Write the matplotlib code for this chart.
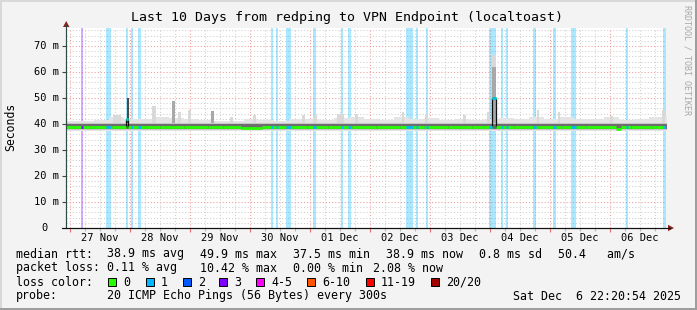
#!/usr/bin/env python3
"""
smokeping style latency graph: last 10 days, redping -> VPN endpoint
"""

import matplotlib
matplotlib.use('Agg')
import matplotlib.pyplot as plt
from matplotlib.patches import Rectangle, Polygon
from matplotlib.lines import Line2D
import numpy as np

W, H = 697, 310
MONO = 'DejaVu Sans Mono'

# time axis in days since 27 Nov 00:00
t_start, t_end = -0.069, 9.931
day_labels = ['27 Nov', '28 Nov', '29 Nov', '30 Nov', '01 Dec',
              '02 Dec', '03 Dec', '04 Dec', '05 Dec', '06 Dec']
y_ticks = [0, 10, 20, 30, 40, 50, 60, 70]

# loss buckets
loss_names = ['0', '1', '2', '3', '4-5', '6-10', '11-19', '20/20']
loss_colors = ['#26ff00', '#00b8ff', '#0059ff', '#7e00ff',
               '#ff00ff', '#ff5500', '#ff0000', '#a10000']

# periods with packet loss (start, end in days, loss bucket)
band_start = [0.183, 0.600, 0.933, 1.017, 1.133, 3.350, 3.433, 3.600, 4.050, 4.517, 4.633,
              5.600, 5.767, 5.933, 6.983, 7.183, 7.267, 7.717, 8.050, 8.350, 9.267, 9.883]
band_end = [0.217, 0.683, 0.967, 1.050, 1.183, 3.383, 3.467, 3.683, 4.100, 4.550, 4.683,
            5.717, 5.800, 5.967, 7.100, 7.217, 7.300, 7.767, 8.100, 8.433, 9.300, 9.931]
band_loss = [3, 1, 1, 1, 1, 1, 1, 1, 1, 1, 1,
             1, 1, 1, 1, 1, 1, 1, 1, 1, 1, 1]

# median rtt (ms), step changes
median_t = [-0.069, 0.35, 0.6, 0.7, 0.933, 0.967, 1.25, 1.5, 1.9, 2.3, 2.55, 2.85, 3.2, 3.6, 3.95, 4.3,
            4.7, 5.1, 5.5, 5.9, 6.3, 6.7, 7.033, 7.1, 7.4, 7.8, 8.2, 8.6, 9.1, 9.18, 9.35, 9.7]
median_v = [38.9, 38.7, 38.8, 38.9, 42.0, 38.8, 38.9, 38.7, 38.9, 38.8, 39.0, 38.6, 38.9, 38.8, 38.9, 38.7,
            38.9, 38.9, 38.8, 38.9, 38.7, 38.9, 50.0, 38.9, 38.8, 38.9, 38.7, 38.9, 38.1, 38.7, 38.9, 38.9]

# smoke: upper envelope of the outer ping spread, every 6 hours
smoke_t = np.arange(-0.1, 9.9, 0.25)
smoke_top = [41.3, 41.0, 41.5, 42.5, 42.0, 41.8, 42.5, 42.3, 42.0, 41.5,
             41.3, 41.0, 42.0, 41.5, 41.2, 41.8, 42.0, 41.5, 42.2, 42.5,
             41.8, 41.5, 42.5, 42.0, 42.3, 41.5, 42.0, 41.5, 42.0, 42.3,
             41.8, 42.8, 42.0, 42.5, 41.8, 42.0, 42.5, 41.5, 41.8, 42.5]
smoke_bottom = 37.2
smoke_mid = (37.8, 40.4)
smoke_dark = (38.2, 39.8)

# single slow samples sticking out of the smoke
spike_t = [0.72, 0.95, 1.37, 1.70, 1.79, 1.96, 2.35, 2.67, 3.05, 3.87, 4.05, 4.45,
           4.75, 5.53, 5.92, 6.55, 6.95, 7.033, 7.033, 7.78, 8.13, 9.00, 9.87]
spike_w = [0.12, 0.03, 0.06, 0.04, 0.06, 0.05, 0.05, 0.05, 0.05, 0.05, 0.06, 0.12,
           0.04, 0.04, 0.04, 0.04, 0.04, 0.067, 0.067, 0.04, 0.04, 0.04, 0.04]
spike_top = [43.5, 50.0, 47.0, 49.0, 44.5, 45.5, 45.0, 42.5, 43.5, 43.5, 43.5, 44.0,
             44.0, 44.5, 44.0, 43.5, 44.5, 66.5, 62.0, 45.5, 44.5, 43.0, 45.5]
spike_level = [0, 2, 0, 1, 0, 0, 1, 0, 0, 0, 0, 0,
               0, 0, 0, 0, 0, 0, 1, 0, 0, 0, 0]
smoke_shades = ['#d9d9d9', '#a8a8a8', '#4a4a4a']

fig = plt.figure(figsize=(W / 100, H / 100), dpi=100, facecolor='#f3f3f3')


def fx(px):
    return px / W


def fy(py):
    return 1 - py / H


ax = fig.add_axes([fx(66), fy(228), 600 / W, 200 / H])
ax.set_facecolor('white')
ax.set_xlim(t_start, t_end)
ax.set_ylim(0, 76.9)

# grid (drawn under data like rrdtool)
for t in np.arange(-0.0, 10.0, 0.25):
    major = abs(t - round(t)) < 1e-6
    ax.axvline(t, color='#f29a9a' if major else '#cfcfcf', lw=0.75,
               ls=(0, (1, 2)), zorder=0.5)
for y in np.arange(2, 77, 2):
    major = y % 10 == 0
    ax.axhline(y, color='#f29a9a' if major else '#cfcfcf', lw=0.75,
               ls=(0, (1, 2)), zorder=0.5)

# loss background bands
for s, e, c in zip(band_start, band_end, band_loss):
    ax.axvspan(s, e, color=loss_colors[c], alpha=0.33, lw=0, zorder=1)

# smoke
st = np.append(smoke_t, t_end + 0.1)
top = np.append(smoke_top, smoke_top[-1])
ax.fill_between(st, smoke_bottom, top, step='post', color='#e4e4e4', lw=0, zorder=2)
for t, w, tp, lv in zip(spike_t, spike_w, spike_top, spike_level):
    ax.bar(t, tp - smoke_mid[0], width=w, bottom=smoke_mid[0], align='edge',
           color=smoke_shades[lv], lw=0, zorder=2.1 + lv * 0.01)
ax.fill_between(st, smoke_mid[0], smoke_mid[1], step='post', color='#c6c6c6', lw=0, zorder=2.2)
ax.fill_between(st, smoke_dark[0], smoke_dark[1], step='post', color='#6e6e6e', lw=0, zorder=2.3)

# median line: black connector on big jumps, then coloured by loss
mt = np.append(median_t, t_end)
jumps = [k for k in range(1, len(median_v)) if abs(median_v[k] - median_v[k - 1]) > 2]
for k in jumps:
    ax.vlines(median_t[k], median_v[k - 1], median_v[k], color='#111111', lw=0.9, zorder=3)
ax.hlines(median_v, median_t, mt[1:], color=loss_colors[0], lw=2.0, zorder=3.1)
for s, e, c in zip(band_start, band_end, band_loss):
    i = np.searchsorted(median_t, s, side='right') - 1
    j = np.searchsorted(median_t, e, side='left')
    edges = [s] + [t for t in median_t[i + 1:j]] + [e]
    for k in range(len(edges) - 1):
        v = median_v[i + k]
        ax.hlines(v, edges[k], edges[k + 1], color=loss_colors[c], lw=2.0, zorder=3.2)

# axes
for sp in ['top', 'right']:
    ax.spines[sp].set_visible(False)
ax.spines['left'].set_color('#2c4d43')
ax.spines['bottom'].set_color('#111111')
ax.spines['left'].set_linewidth(0.8)
ax.spines['bottom'].set_linewidth(0.8)
ax.set_xticks(np.arange(0, 10, 1))
ax.set_xticks(np.arange(0, 10, 0.25), minor=True)
ax.set_xticklabels([])
ax.tick_params(axis='x', which='major', length=3, color='#e07070', width=0.8)
ax.tick_params(axis='x', which='minor', length=2, color='#bbbbbb', width=0.8)
ax.set_yticks(y_ticks)
ax.set_yticklabels([])
ax.tick_params(axis='y', length=3, color='#444444', width=0.8)

xt = ax.get_xaxis_transform()
for i, lab in enumerate(day_labels):
    ax.text(i + 0.5, -0.05, lab, transform=xt, ha='center', va='center',
            family=MONO, fontsize=7.5)
yt = ax.get_yaxis_transform()
for v in y_ticks:
    if v == 0:
        ax.text((44.5 - 66) / 600, v, '0', transform=yt, ha='center', va='center',
                family=MONO, fontsize=7.5)
    else:
        ax.text((59 - 66) / 600, v, f'{v} m', transform=yt, ha='right', va='center',
                family=MONO, fontsize=7.5)

# axis extensions and arrows
fig.add_artist(Line2D([fx(66), fx(66)], [fy(228), fy(25)], color='#2c4d43', lw=0.8))
fig.add_artist(Line2D([fx(62), fx(670)], [fy(228), fy(228)], color='#111111', lw=0.8))
fig.add_artist(Polygon([[fx(63), fy(27)], [fx(69.5), fy(27)], [fx(66.2), fy(21)]],
                       closed=True, color='#8e1f1f', lw=0))
fig.add_artist(Polygon([[fx(668), fy(224.8)], [fx(668), fy(231.2)], [fx(674), fy(228)]],
                       closed=True, color='#8e1f1f', lw=0))

# titles
fig.text(fx(347), fy(18), 'Last 10 Days from redping to VPN Endpoint (localtoast)',
         ha='center', va='center', family=MONO, fontsize=9.5)
fig.text(fx(11), fy(127), 'Seconds', rotation=90, ha='center', va='center',
         family=MONO, fontsize=8.3)
fig.text(fx(687.5), fy(60), 'RRDTOOL / TOBI OETIKER', rotation=270, ha='center', va='center',
         family=MONO, fontsize=6, color='#a8a8a8')

# legend block
fs = 8.4
rows = [
    (254, [('median rtt:', 16), ('38.9 ms avg', 107), ('49.9 ms max', 200), ('37.5 ms min', 293),
           ('38.9 ms now', 386), ('0.8 ms sd', 479), ('50.4   am/s', 558)]),
    (268, [('packet loss:', 16), ('0.11 % avg', 107), ('10.42 % max', 200), ('0.00 % min', 293),
           ('2.08 % now', 373)]),
    (282, [('loss color:', 16)]),
    (296, [('probe:', 16), ('20 ICMP Echo Pings (56 Bytes) every 300s', 107),
           ('Sat Dec  6 22:20:54 2025', 513)]),
]
for y, items in rows:
    for txt, x in items:
        fig.text(fx(x), fy(y), txt, ha='left', va='center', family=MONO, fontsize=fs)

swatch_x = [108, 146, 183, 219, 256, 307, 366, 431]
for x, name, col in zip(swatch_x, loss_names, loss_colors):
    fig.add_artist(Rectangle((fx(x), fy(286)), 8 / W, 8 / H, facecolor=col,
                             edgecolor='black', lw=0.7))
    fig.text(fx(x + 15), fy(282), name, ha='left', va='center', family=MONO, fontsize=fs)

# 3d frame
fig.add_artist(Line2D([0, 1], [fy(0.5), fy(0.5)], color='#d8d8d8', lw=1.4))
fig.add_artist(Line2D([fx(0.5), fx(0.5)], [0, 1], color='#d8d8d8', lw=1.4))
fig.add_artist(Line2D([0, 1], [fy(309), fy(309)], color='#9c9c9c', lw=1.4))
fig.add_artist(Line2D([fx(696), fx(696)], [0, 1], color='#9c9c9c', lw=1.4))

fig.savefig('out.png', dpi=100, facecolor=fig.get_facecolor())
